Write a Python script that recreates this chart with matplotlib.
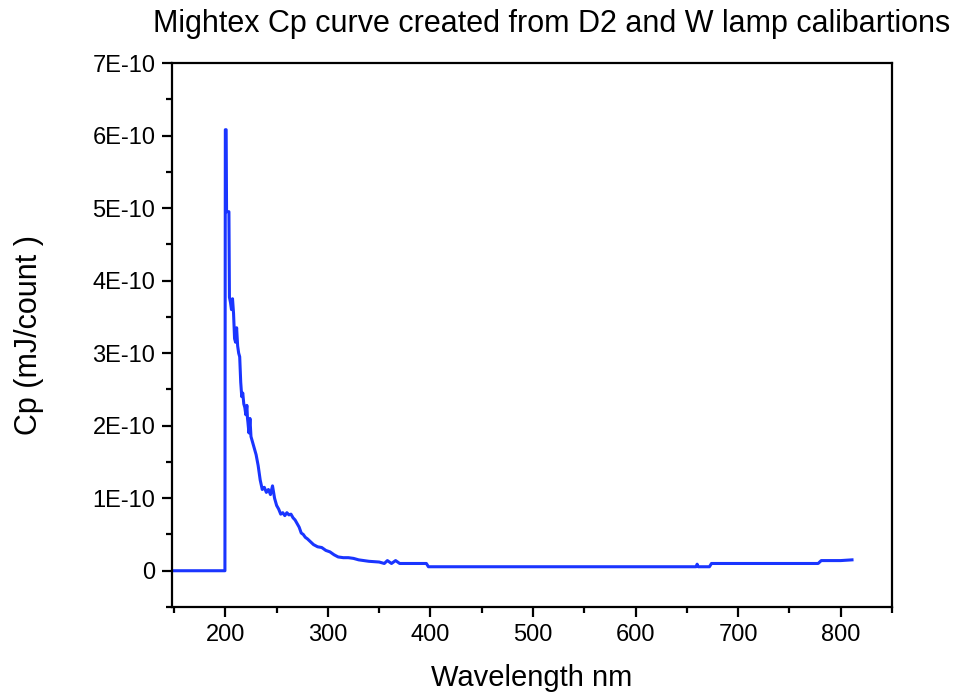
import matplotlib
matplotlib.use("Agg")
import matplotlib.pyplot as plt
from matplotlib.ticker import MultipleLocator, FuncFormatter

plt.rcParams['font.family'] = ['Liberation Sans', 'DejaVu Sans']

# wavelength (nm) and Cp (units of 1E-10 mJ/count)
wavelength = [148, 199.6, 200, 200.8, 201.2, 203.5, 204, 205, 206, 207, 208, 209, 210,
              211, 212, 213, 214, 215, 216, 217, 218, 219, 220, 221, 221.6, 222, 223,
              224, 225, 226, 228, 230, 232, 234, 236, 238, 240, 242, 244, 246, 248,
              250, 252, 254, 256, 258, 260, 262, 264, 266, 268, 270, 272, 274, 276,
              278, 280, 283, 286, 290, 294, 298, 302, 306, 310, 315, 320, 325, 330,
              340, 350, 355, 358, 362, 366, 370, 380, 390, 396, 398, 500, 600, 659,
              660, 661, 672, 674, 700, 778, 781, 800, 811]
cp = [0, 0, 6.08, 6.08, 4.95, 4.95, 3.77, 3.70, 3.60, 3.75, 3.55, 3.20, 3.15,
      3.35, 3.10, 3.00, 2.95, 2.60, 2.40, 2.45, 2.30, 2.25, 2.15, 2.28, 2.10, 2.05, 1.90,
      2.10, 1.85, 1.80, 1.70, 1.60, 1.45, 1.25, 1.12, 1.15, 1.08, 1.12, 1.05, 1.17, 1.00,
      0.90, 0.85, 0.78, 0.80, 0.76, 0.80, 0.77, 0.78, 0.73, 0.70, 0.65, 0.60, 0.52, 0.50,
      0.46, 0.44, 0.40, 0.36, 0.33, 0.32, 0.28, 0.26, 0.22, 0.19, 0.18, 0.18, 0.17, 0.15,
      0.13, 0.12, 0.10, 0.14, 0.10, 0.14, 0.10, 0.10, 0.10, 0.10, 0.055, 0.055, 0.055, 0.055,
      0.09, 0.055, 0.055, 0.10, 0.10, 0.10, 0.14, 0.14, 0.15]

cp_vals = [v * 1e-10 for v in cp]

fig = plt.figure(figsize=(9.58, 7.0), dpi=100)
ax = fig.add_axes([172 / 958, 1 - 607 / 700, (892 - 172) / 958, (607 - 63) / 700])

ax.plot(wavelength, cp_vals, color='#1a35ff', lw=2.2)

ax.set_xlim(148, 850)
ax.set_ylim(-0.5e-10, 7e-10)
ax.xaxis.set_major_locator(MultipleLocator(100))
ax.xaxis.set_minor_locator(MultipleLocator(50))
ax.yaxis.set_major_locator(MultipleLocator(1e-10))
ax.yaxis.set_minor_locator(MultipleLocator(0.5e-10))


def fmt(v, pos):
    n = int(round(v / 1e-10))
    return '0' if n == 0 else '%dE-10' % n


ax.yaxis.set_major_formatter(FuncFormatter(fmt))

for s in ax.spines.values():
    s.set_linewidth(1.6)
ax.tick_params(which='major', direction='out', length=7, width=1.6, labelsize=17, pad=5)
ax.tick_params(which='minor', direction='out', length=4.5, width=1.6)
ax.tick_params(top=False, right=False)

ax.set_xlabel('Wavelength nm', fontsize=21)
ax.set_ylabel('Cp (mJ/count )', fontsize=22)
ax.yaxis.set_label_coords(-0.178, 0.5)
ax.xaxis.set_label_coords(0.5, -0.105)
fig.text(552 / 958, 1 - 32 / 700, 'Mightex Cp curve created from D2 and W lamp calibartions',
         ha='center', va='baseline', fontsize=22)

fig.savefig('out.png', dpi=100)
